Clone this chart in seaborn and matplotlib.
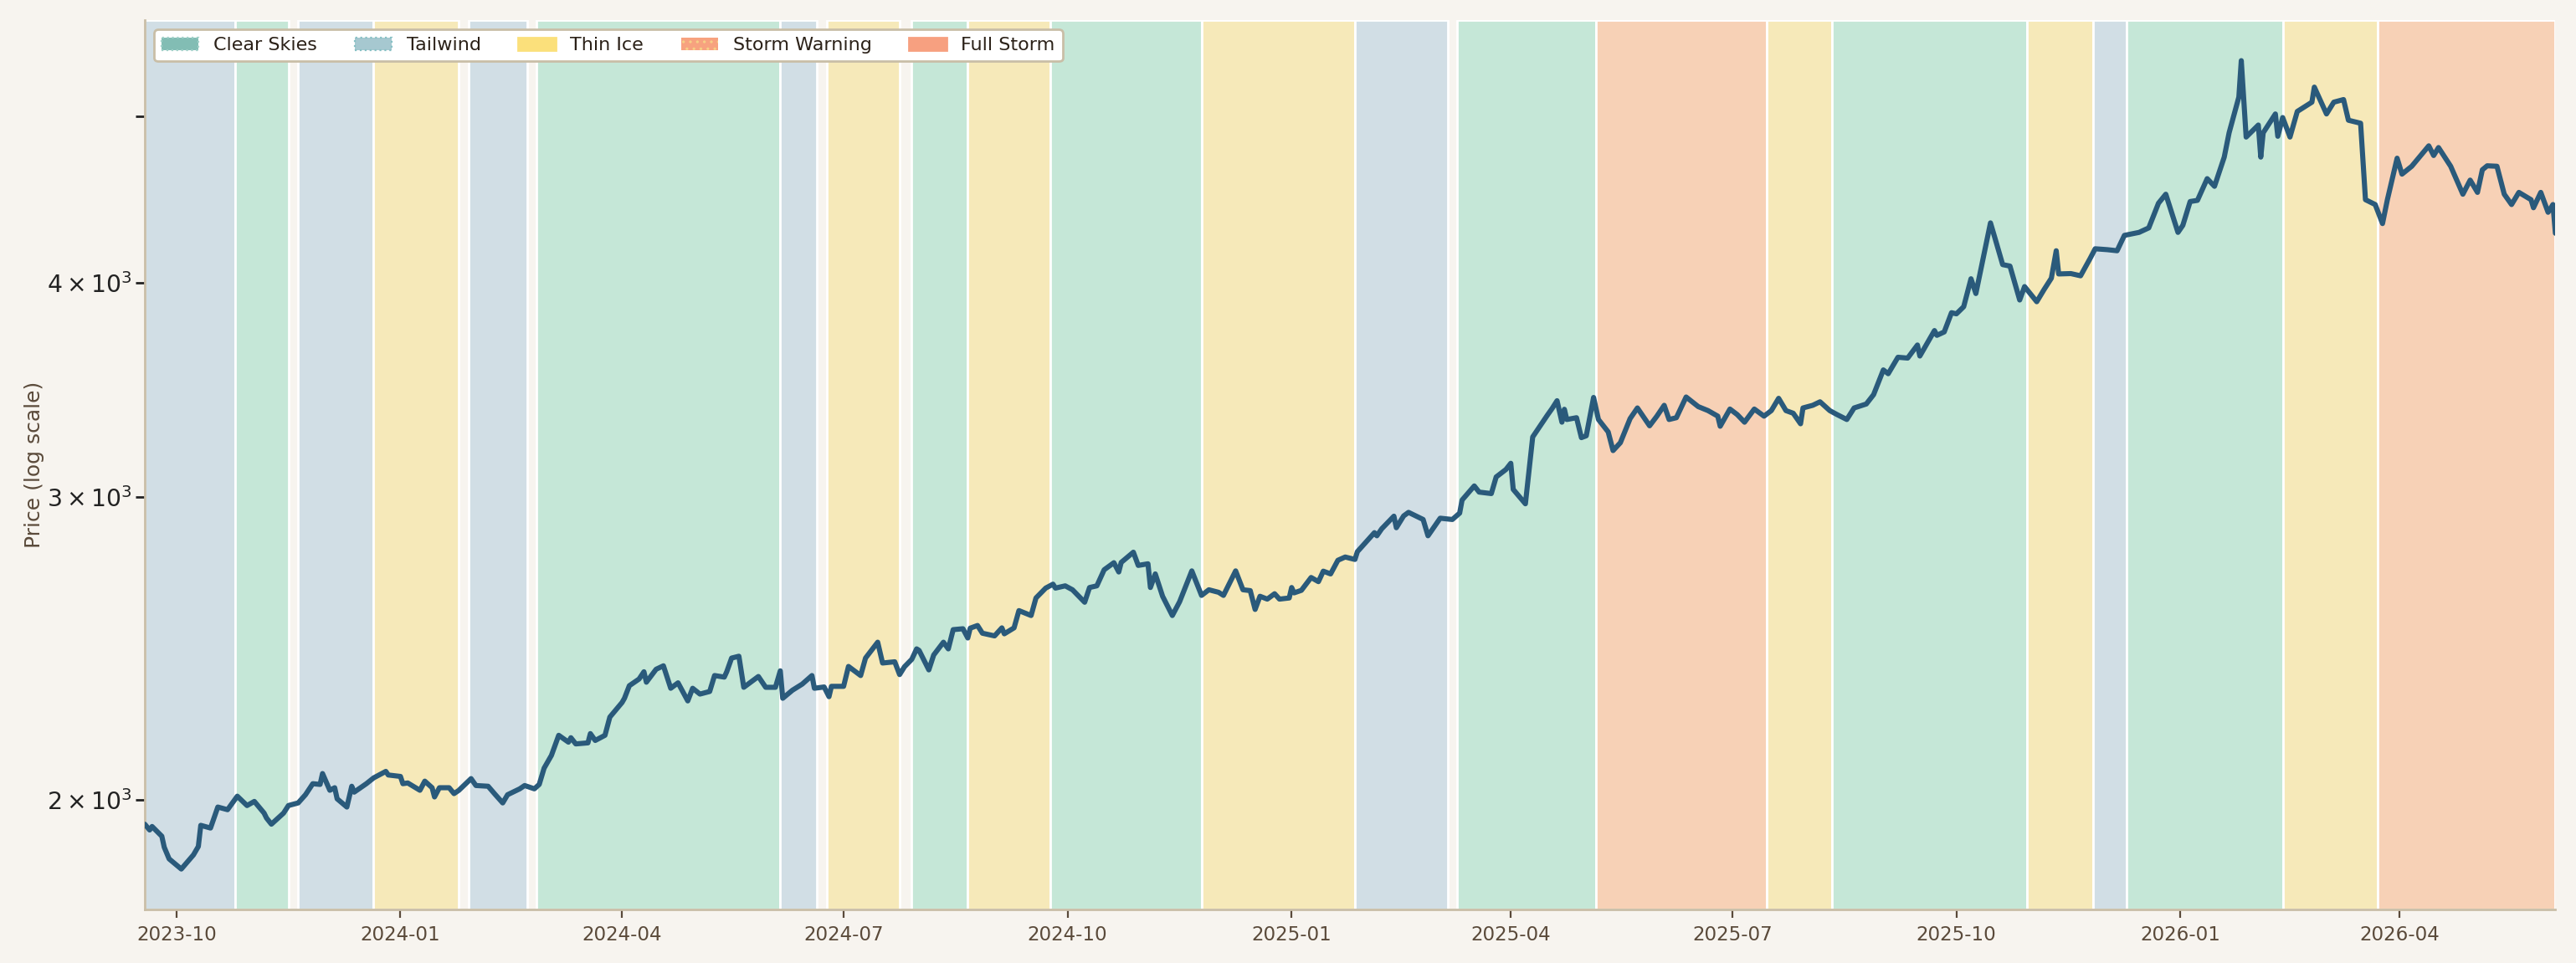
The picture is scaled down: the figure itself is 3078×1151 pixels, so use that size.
import matplotlib
matplotlib.use("Agg")
import matplotlib.pyplot as plt
import matplotlib.dates as mdates
from matplotlib.patches import Patch
import pandas as pd
import seaborn as sns

# price series
dates = [
    "2023-09-18", "2023-09-20", "2023-09-21", "2023-09-25", "2023-09-26", "2023-09-28",
    "2023-10-03", "2023-10-08", "2023-10-10", "2023-10-11", "2023-10-15", "2023-10-18",
    "2023-10-22", "2023-10-26", "2023-10-30", "2023-11-02", "2023-11-06", "2023-11-07",
    "2023-11-09", "2023-11-14", "2023-11-16", "2023-11-20", "2023-11-23", "2023-11-26",
    "2023-11-29", "2023-11-30", "2023-12-03", "2023-12-05", "2023-12-06", "2023-12-10",
    "2023-12-12", "2023-12-13", "2023-12-18", "2023-12-21", "2023-12-26", "2023-12-27",
    "2024-01-01", "2024-01-02", "2024-01-04", "2024-01-09", "2024-01-11", "2024-01-14",
    "2024-01-15", "2024-01-17", "2024-01-21", "2024-01-23", "2024-01-25", "2024-01-30",
    "2024-02-01", "2024-02-06", "2024-02-09", "2024-02-12", "2024-02-14", "2024-02-19",
    "2024-02-21", "2024-02-25", "2024-02-27", "2024-02-29", "2024-03-03", "2024-03-06",
    "2024-03-10", "2024-03-11", "2024-03-13", "2024-03-18", "2024-03-19", "2024-03-21",
    "2024-03-25", "2024-03-27", "2024-04-01", "2024-04-02", "2024-04-04", "2024-04-08",
    "2024-04-10", "2024-04-11", "2024-04-15", "2024-04-18", "2024-04-21", "2024-04-24",
    "2024-04-28", "2024-04-30", "2024-05-03", "2024-05-07", "2024-05-09", "2024-05-13",
    "2024-05-14", "2024-05-16", "2024-05-19", "2024-05-21", "2024-05-27", "2024-05-30",
    "2024-06-03", "2024-06-05", "2024-06-06", "2024-06-10", "2024-06-14", "2024-06-18",
    "2024-06-19", "2024-06-23", "2024-06-25", "2024-06-26", "2024-07-01", "2024-07-03",
    "2024-07-08", "2024-07-10", "2024-07-15", "2024-07-17", "2024-07-22", "2024-07-24",
    "2024-07-26", "2024-07-29", "2024-07-31", "2024-08-01", "2024-08-05", "2024-08-07",
    "2024-08-11", "2024-08-13", "2024-08-15", "2024-08-19", "2024-08-21", "2024-08-22",
    "2024-08-25", "2024-08-27", "2024-09-01", "2024-09-04", "2024-09-05", "2024-09-09",
    "2024-09-11", "2024-09-16", "2024-09-18", "2024-09-22", "2024-09-25", "2024-09-26",
    "2024-09-30", "2024-10-03", "2024-10-08", "2024-10-10", "2024-10-13", "2024-10-16",
    "2024-10-20", "2024-10-22", "2024-10-23", "2024-10-28", "2024-10-30", "2024-11-03",
    "2024-11-04", "2024-11-06", "2024-11-09", "2024-11-13", "2024-11-16", "2024-11-21",
    "2024-11-25", "2024-11-28", "2024-12-02", "2024-12-04", "2024-12-09", "2024-12-12",
    "2024-12-15", "2024-12-17", "2024-12-19", "2024-12-22", "2024-12-25", "2024-12-27",
    "2024-12-31", "2025-01-01", "2025-01-02", "2025-01-05", "2025-01-09", "2025-01-12",
    "2025-01-14", "2025-01-17", "2025-01-20", "2025-01-23", "2025-01-27", "2025-01-28",
    "2025-02-01", "2025-02-04", "2025-02-05", "2025-02-07", "2025-02-12", "2025-02-13",
    "2025-02-16", "2025-02-18", "2025-02-24", "2025-02-26", "2025-03-03", "2025-03-08",
    "2025-03-11", "2025-03-12", "2025-03-17", "2025-03-19", "2025-03-24", "2025-03-26",
    "2025-03-30", "2025-04-01", "2025-04-02", "2025-04-07", "2025-04-10", "2025-04-16",
    "2025-04-18", "2025-04-20", "2025-04-22", "2025-04-23", "2025-04-24", "2025-04-28",
    "2025-04-30", "2025-05-02", "2025-05-05", "2025-05-07", "2025-05-11", "2025-05-13",
    "2025-05-16", "2025-05-20", "2025-05-23", "2025-05-28", "2025-05-31", "2025-06-03",
    "2025-06-05", "2025-06-08", "2025-06-12", "2025-06-17", "2025-06-21", "2025-06-25",
    "2025-06-26", "2025-06-30", "2025-07-03", "2025-07-06", "2025-07-10", "2025-07-14",
    "2025-07-17", "2025-07-20", "2025-07-23", "2025-07-26", "2025-07-29", "2025-07-30",
    "2025-08-03", "2025-08-06", "2025-08-10", "2025-08-13", "2025-08-17", "2025-08-20",
    "2025-08-25", "2025-08-28", "2025-09-01", "2025-09-03", "2025-09-07", "2025-09-11",
    "2025-09-15", "2025-09-16", "2025-09-22", "2025-09-23", "2025-09-26", "2025-09-29",
    "2025-10-01", "2025-10-04", "2025-10-07", "2025-10-09", "2025-10-15", "2025-10-17",
    "2025-10-20", "2025-10-23", "2025-10-27", "2025-10-29", "2025-11-03", "2025-11-06",
    "2025-11-09", "2025-11-11", "2025-11-12", "2025-11-17", "2025-11-21", "2025-11-25",
    "2025-11-27", "2025-12-02", "2025-12-06", "2025-12-09", "2025-12-15", "2025-12-19",
    "2025-12-23", "2025-12-26", "2025-12-31", "2026-01-02", "2026-01-05", "2026-01-08",
    "2026-01-12", "2026-01-15", "2026-01-19", "2026-01-21", "2026-01-25", "2026-01-26",
    "2026-01-28", "2026-02-02", "2026-02-03", "2026-02-04", "2026-02-09", "2026-02-10",
    "2026-02-12", "2026-02-15", "2026-02-18", "2026-02-24", "2026-02-25", "2026-03-02",
    "2026-03-05", "2026-03-09", "2026-03-11", "2026-03-16", "2026-03-18", "2026-03-22",
    "2026-03-25", "2026-03-27", "2026-03-31", "2026-04-02", "2026-04-06", "2026-04-13",
    "2026-04-15", "2026-04-17", "2026-04-22", "2026-04-27", "2026-04-30", "2026-05-03",
    "2026-05-05", "2026-05-07", "2026-05-11", "2026-05-14", "2026-05-17", "2026-05-20",
    "2026-05-25", "2026-05-26", "2026-05-29", "2026-06-01", "2026-06-03", "2026-06-04",
]
prices = [
    1935, 1920, 1929, 1904, 1876, 1847,
    1822, 1857, 1878, 1932, 1925, 1980,
    1973, 2009, 1984, 1995, 1964, 1951,
    1935, 1964, 1984, 1991, 2013, 2043,
    2041, 2071, 2025, 2032, 2002, 1980,
    2036, 2020, 2043, 2059, 2077, 2067,
    2063, 2043, 2045, 2025, 2050, 2032,
    2007, 2032, 2032, 2016, 2025, 2057,
    2038, 2036, 2013, 1991, 2013, 2029,
    2038, 2029, 2041, 2086, 2122, 2180,
    2160, 2173, 2155, 2158, 2185, 2165,
    2180, 2234, 2278, 2291, 2330, 2351,
    2374, 2341, 2382, 2393, 2322, 2339,
    2283, 2322, 2304, 2312, 2362, 2357,
    2374, 2418, 2424, 2325, 2359, 2325,
    2325, 2377, 2291, 2316, 2335, 2362,
    2322, 2326, 2296, 2328, 2328, 2391,
    2362, 2418, 2470, 2402, 2406, 2365,
    2390, 2414, 2448, 2443, 2380, 2428,
    2470, 2448, 2512, 2515, 2484, 2517,
    2526, 2500, 2491, 2518, 2498, 2518,
    2577, 2560, 2621, 2656, 2670, 2656,
    2664, 2650, 2606, 2658, 2664, 2722,
    2748, 2714, 2749, 2787, 2738, 2744,
    2658, 2707, 2627, 2560, 2608, 2718,
    2630, 2650, 2641, 2630, 2718, 2650,
    2647, 2581, 2627, 2617, 2636, 2617,
    2621, 2658, 2639, 2648, 2694, 2679,
    2717, 2707, 2757, 2769, 2760, 2789,
    2830, 2861, 2849, 2876, 2925, 2880,
    2926, 2940, 2912, 2849, 2917, 2912,
    2937, 2989, 3046, 3021, 3015, 3083,
    3114, 3140, 3032, 2974, 3253, 3349,
    3380, 3415, 3318, 3376, 3330, 3338,
    3250, 3258, 3430, 3330, 3275, 3194,
    3228, 3334, 3382, 3302, 3345, 3394,
    3330, 3338, 3432, 3388, 3370, 3345,
    3300, 3377, 3352, 3318, 3377, 3345,
    3370, 3426, 3370, 3358, 3311, 3382,
    3394, 3410, 3370, 3352, 3330, 3382,
    3400, 3443, 3559, 3541, 3620, 3616,
    3680, 3626, 3752, 3728, 3745, 3843,
    3837, 3874, 4022, 3943, 4335, 4240,
    4099, 4091, 3909, 3980, 3900, 3964,
    4025, 4176, 4048, 4050, 4038, 4135,
    4187, 4182, 4176, 4263, 4280, 4306,
    4451, 4505, 4280, 4321, 4461, 4468,
    4600, 4553, 4735, 4892, 5132, 5389,
    4864, 4943, 4735, 4892, 5017, 4869,
    4993, 4864, 5034, 5097, 5201, 5017,
    5097, 5115, 4975, 4955, 4472, 4443,
    4331, 4472, 4728, 4628, 4677, 4807,
    4745, 4796, 4677, 4505, 4591, 4516,
    4655, 4680, 4677, 4505, 4443, 4516,
    4472, 4424, 4516, 4397, 4443, 4275,
]

# regime periods shaded behind the line
span_starts = [
    "2023-09-18", "2023-10-25", "2023-11-20", "2023-12-21", "2024-01-29", "2024-02-26",
    "2024-06-05", "2024-06-24", "2024-07-29", "2024-08-21", "2024-09-24", "2024-11-25",
    "2025-01-27", "2025-03-10", "2025-05-06", "2025-07-15", "2025-08-11", "2025-10-30",
    "2025-11-26", "2025-12-10", "2026-02-12", "2026-03-23",
]
span_ends = [
    "2023-10-25", "2023-11-16", "2023-12-21", "2024-01-25", "2024-02-22", "2024-06-05",
    "2024-06-20", "2024-07-24", "2024-08-21", "2024-09-24", "2024-11-25", "2025-01-27",
    "2025-03-06", "2025-05-06", "2025-07-15", "2025-08-11", "2025-10-30", "2025-11-26",
    "2025-12-10", "2026-02-12", "2026-03-23", "2026-06-04",
]
span_regimes = [
    "Tailwind", "Clear Skies", "Tailwind", "Thin Ice", "Tailwind", "Clear Skies",
    "Tailwind", "Thin Ice", "Clear Skies", "Thin Ice", "Clear Skies", "Thin Ice",
    "Tailwind", "Clear Skies", "Storm Warning", "Thin Ice", "Clear Skies", "Thin Ice",
    "Tailwind", "Clear Skies", "Thin Ice", "Full Storm",
]

regime_names = ["Clear Skies", "Tailwind", "Thin Ice", "Storm Warning", "Full Storm"]
legend_colors = ["#82bdb4", "#a6c8d0", "#fbe07b", "#f7a27f", "#f7a080"]
span_colors = {
    "Clear Skies": "#c5e7d7",
    "Tailwind": "#d1dee5",
    "Thin Ice": "#f6e9b9",
    "Storm Warning": "#f7d1b6",
    "Full Storm": "#f7d1b6",
}

bg = "#f7f4ef"
tan = "#c9bea7"
brown = "#5a4a3a"

sns.set_theme(style="ticks", rc={
    "figure.facecolor": bg,
    "axes.facecolor": bg,
    "axes.edgecolor": tan,
    "axes.linewidth": 1.0,
    "savefig.facecolor": bg,
    "hatch.linewidth": 0.6,
})
plt.rcParams["font.family"] = ["DejaVu Sans"]

df = pd.DataFrame({"date": pd.to_datetime(dates), "price": prices})

fig, ax = plt.subplots(figsize=(15.39, 5.755), dpi=200)
fig.subplots_adjust(left=0.0562, right=0.992, bottom=0.0556, top=0.979)

for s, e, r in zip(span_starts, span_ends, span_regimes):
    ax.axvspan(pd.Timestamp(s), pd.Timestamp(e), facecolor=span_colors[r],
               edgecolor="white", linewidth=1.0, zorder=0)

sns.lineplot(data=df, x="date", y="price", ax=ax, color="#2a5a7b",
             linewidth=2.2, zorder=3)

ax.set_yscale("log")
ax.set_xlim(df["date"].min(), df["date"].max())

ax.xaxis.set_major_locator(mdates.MonthLocator(bymonth=[1, 4, 7, 10]))
ax.xaxis.set_major_formatter(mdates.DateFormatter("%Y-%m"))

ax.set_xlabel("")
ax.set_ylabel("Price (log scale)", fontsize=9, color=brown, labelpad=1)
ax.tick_params(axis="x", colors=brown, labelsize=8.3, length=3.5, width=0.8)
ax.tick_params(axis="y", which="minor", labelsize=10.2, colors="#222222", pad=1.5)
sns.despine(ax=ax)

handles = [
    Patch(facecolor=legend_colors[0], edgecolor="#9fd0c8", linestyle=":", linewidth=0.8),
    Patch(facecolor=legend_colors[1], edgecolor="#86c0c4", linestyle=":", linewidth=0.8),
    Patch(facecolor=legend_colors[2], edgecolor=legend_colors[2]),
    Patch(facecolor=legend_colors[3], edgecolor="#f6cf86", hatch="....", linewidth=0),
    Patch(facecolor=legend_colors[4], edgecolor=legend_colors[4]),
]
leg = ax.legend(handles, regime_names, loc="upper left", ncol=5, fontsize=8,
                frameon=True, fancybox=True, framealpha=1.0)
leg.get_frame().set_facecolor("white")
leg.get_frame().set_edgecolor(tan)
leg.get_frame().set_linewidth(1.0)
for t in leg.get_texts():
    t.set_color("#2b2118")

plt.savefig("out.png", dpi=200)
